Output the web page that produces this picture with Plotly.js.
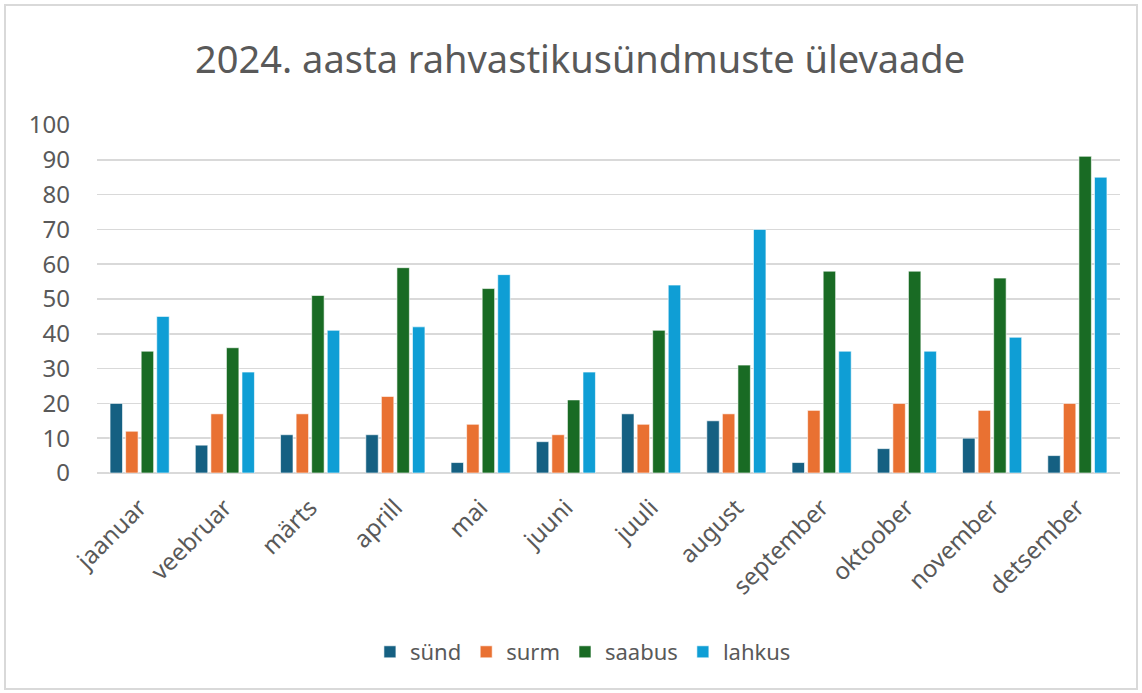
<!DOCTYPE html>
<html>
<head>
<meta charset="utf-8">
<script src="https://cdn.plot.ly/plotly-3.0.1.min.js"></script>
<style>
  html, body { margin: 0; padding: 0; background: #ffffff; }
  #chart { width: 1142px; height: 693px; }
</style>
</head>
<body>
<div id="chart"></div>
<script>
const months = ["jaanuar", "veebruar", "märts", "aprill", "mai", "juuni", "juuli", "august", "september", "oktoober", "november", "detsember"];
const synd   = [20, 8, 11, 11, 3, 9, 17, 15, 3, 7, 10, 5];
const surm   = [12, 17, 17, 22, 14, 11, 14, 17, 18, 20, 18, 20];
const saabus = [35, 36, 51, 59, 53, 21, 41, 31, 58, 58, 56, 91];
const lahkus = [45, 29, 41, 42, 57, 29, 54, 70, 35, 35, 39, 85];
const seriesNames = ["sünd", "surm", "saabus", "lahkus"];
const seriesColors = ["#156082", "#E97132", "#196B24", "#0F9ED5"];
const seriesValues = [synd, surm, saabus, lahkus];

const FONT = "'Noto Sans', 'Open Sans', sans-serif";

const traces = seriesValues.map((vals, i) => ({
  type: "bar",
  name: seriesNames[i],
  x: months,
  y: vals,
  marker: { color: seriesColors[i], line: { color: "rgba(255,255,255,0.6)", width: 1 } },
  hoverinfo: "x+y+name"
}));

const L = 97, R = 1120, T = 125, B = 473;
const W = R - L, H = B - T;

const layout = {
  width: 1142,
  height: 693,
  paper_bgcolor: "#ffffff",
  plot_bgcolor: "#ffffff",
  font: { family: FONT, color: "#595959" },
  margin: { l: L, r: 1142 - R, t: T, b: 693 - B },
  title: {
    text: "2024. aasta rahvastikusündmuste ülevaade",
    font: { size: 38, color: "#595959", family: FONT },
    x: 0.508, xref: "container", xanchor: "center",
    y: 1 - 60 / 693, yref: "container", yanchor: "middle"
  },
  barmode: "group",
  bargap: 0.27,
  bargroupgap: 0.2,
  xaxis: {
    type: "category",
    tickangle: -45,
    tickfont: { size: 24, color: "#595959", family: FONT },
    showgrid: false,
    showline: false,
    ticks: "outside",
    ticklen: 10,
    tickcolor: "rgba(0,0,0,0)",
    zeroline: false
  },
  yaxis: {
    range: [0, 100],
    dtick: 10,
    tickfont: { size: 24, color: "#595959", family: FONT },
    gridcolor: "#d9d9d9",
    gridwidth: 1.5,
    zeroline: true,
    zerolinecolor: "#d9d9d9",
    zerolinewidth: 2,
    showline: false,
    ticks: "",
    ticklabelstandoff: 26,
    fixedrange: true
  },
  showlegend: true,
  legend: {
    orientation: "h",
    x: 0.475, xanchor: "center",
    y: (B - 652) / H, yanchor: "middle",
    font: { size: 22, color: "#595959", family: FONT },
    itemwidth: 30,
    traceorder: "normal"
  },
  shapes: [{
    type: "rect",
    xref: "paper", yref: "paper",
    x0: (5 - L) / W, x1: (1137 - L) / W,
    y0: (B - 689) / H, y1: (B - 5) / H,
    line: { color: "#d9d9d9", width: 2 },
    fillcolor: "rgba(0,0,0,0)",
    layer: "below"
  }]
};

Plotly.newPlot("chart", traces, layout, { displayModeBar: false, staticPlot: true });
</script>
</body>
</html>
